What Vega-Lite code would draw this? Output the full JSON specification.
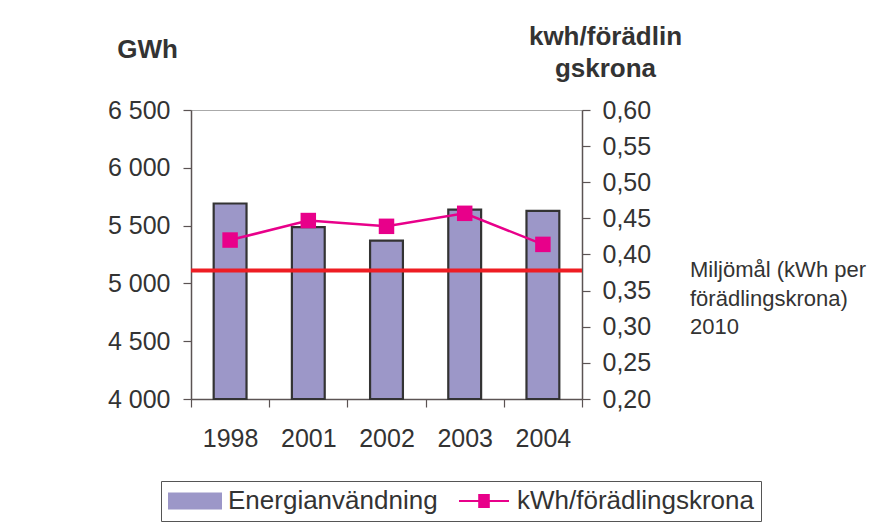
{
  "$schema": "https://vega.github.io/schema/vega-lite/v6.json",
  "width": 391,
  "height": 289,
  "autosize": {"type": "none"},
  "padding": {"left": 191, "top": 110, "right": 300, "bottom": 127},
  "background": "white",
  "config": {
    "font": "Liberation Sans",
    "view": {"stroke": "#aaaaaa", "strokeWidth": 1},
    "axis": {
      "grid": false,
      "domainColor": "#5b5353",
      "tickColor": "#5b5353",
      "domainWidth": 1.5,
      "tickWidth": 1.2,
      "tickSize": 8,
      "labelColor": "#333333",
      "titleColor": "#333333",
      "labelFont": "Liberation Sans",
      "titleFont": "Liberation Sans",
      "labelFontSize": 25,
      "labelFontWeight": "normal",
      "labelOverlap": false
    },
    "legend": {
      "orient": "none",
      "legendY": 371,
      "direction": "horizontal",
      "padding": 7,
      "labelFontSize": 26,
      "labelFont": "Liberation Sans",
      "labelLimit": 400,
      "symbolSize": 400,
      "symbolStrokeWidth": 0,
      "symbolOffset": 14,
      "labelOffset": 20,
      "columnPadding": 19
    }
  },
  "data": {
    "values": [
      {"year": "1998", "energy": 5691, "intensity": 0.420, "s1": "Energianvändning", "s2": "kWh/förädlingskrona"},
      {"year": "2001", "energy": 5486, "intensity": 0.447, "s1": "Energianvändning", "s2": "kWh/förädlingskrona"},
      {"year": "2002", "energy": 5370, "intensity": 0.439, "s1": "Energianvändning", "s2": "kWh/förädlingskrona"},
      {"year": "2003", "energy": 5639, "intensity": 0.457, "s1": "Energianvändning", "s2": "kWh/förädlingskrona"},
      {"year": "2004", "energy": 5627, "intensity": 0.414, "s1": "Energianvändning", "s2": "kWh/förädlingskrona"}
    ]
  },
  "layer": [
    {
      "layer": [
        {
          "mark": {"type": "bar", "width": {"band": 0.42}, "opacity": 1},
          "encoding": {
            "x": {
              "field": "year",
              "type": "nominal",
              "sort": null,
              "scale": {"paddingInner": 0, "paddingOuter": 0},
              "axis": {
                "title": null,
                "labelAngle": 0,
                "tickBand": "extent",
                "labelBaseline": "alphabetic",
                "labelPadding": 39
              }
            },
            "y": {
              "field": "energy",
              "type": "quantitative",
              "scale": {"domain": [4000, 6500], "zero": false, "nice": false},
              "axis": {
                "orient": "left",
                "values": [4000, 4500, 5000, 5500, 6000, 6500],
                "labelExpr": "replace(format(datum.value, ',.0f'), ',', ' ')",
                "labelPadding": 13,
                "title": "GWh",
                "titleFontSize": 26,
                "titleFontWeight": "bold",
                "titleAngle": 0,
                "titleAlign": "center",
                "titleBaseline": "alphabetic",
                "titleX": -44,
                "titleY": -53
              }
            },
            "y2": {"datum": 4000},
            "color": {
              "field": "s1",
              "type": "nominal",
              "scale": {"domain": ["Energianvändning", "kWh/förädlingskrona"], "range": ["#9c97c8", "transparent"]},
              "legend": {
                "title": null,
                "legendX": -30,
                "strokeColor": "#555555",
                "labelColor": "#333333",
                "symbolType": "M-2.7,-0.85H2.7V0.85H-2.7Z"
              }
            }
          }
        },
        {
          "mark": {"type": "bar", "width": {"band": 0.42}, "fill": "transparent", "stroke": "#333333", "strokeWidth": 2.2},
          "encoding": {
            "x": {"field": "year", "type": "nominal", "sort": null},
            "y": {
              "field": "energy",
              "type": "quantitative",
              "axis": {
                "orient": "left",
                "values": [4000, 4500, 5000, 5500, 6000, 6500],
                "labelExpr": "replace(format(datum.value, ',.0f'), ',', ' ')",
                "labelPadding": 13,
                "title": "GWh",
                "titleFontSize": 26,
                "titleFontWeight": "bold",
                "titleAngle": 0,
                "titleAlign": "center",
                "titleBaseline": "alphabetic",
                "titleX": -44,
                "titleY": -53
              }
            },
            "y2": {"datum": 4000}
          }
        }
      ]
    },
    {
      "layer": [
        {
          "mark": {"type": "line", "color": "#e8008a", "strokeWidth": 2.5},
          "encoding": {
            "x": {"field": "year", "type": "nominal", "sort": null},
            "y": {
              "field": "intensity",
              "type": "quantitative",
              "scale": {"domain": [0.2, 0.6], "zero": false, "nice": false},
              "axis": {
                "orient": "right",
                "values": [0.2, 0.25, 0.3, 0.35, 0.4, 0.45, 0.5, 0.55, 0.6],
                "labelExpr": "replace(format(datum.value, '.2f'), '.', ',')",
                "labelPadding": 12,
                "labelOverlap": false,
                "title": ["kwh/förädlin", "gskrona"],
                "titleFontSize": 26,
                "titleFontWeight": "bold",
                "titleAngle": 0,
                "titleAlign": "center",
                "titleBaseline": "alphabetic",
                "titleLineHeight": 32,
                "titleX": 23,
                "titleY": -66
              }
            }
          }
        },
        {
          "mark": {"type": "square", "size": 240, "filled": true, "opacity": 1},
          "encoding": {
            "x": {"field": "year", "type": "nominal", "sort": null},
            "y": {
              "field": "intensity",
              "type": "quantitative",
              "axis": {
                "orient": "right",
                "values": [0.2, 0.25, 0.3, 0.35, 0.4, 0.45, 0.5, 0.55, 0.6],
                "labelExpr": "replace(format(datum.value, '.2f'), '.', ',')",
                "labelPadding": 12,
                "labelOverlap": false,
                "title": ["kwh/förädlin", "gskrona"],
                "titleFontSize": 26,
                "titleFontWeight": "bold",
                "titleAngle": 0,
                "titleAlign": "center",
                "titleBaseline": "alphabetic",
                "titleLineHeight": 32,
                "titleX": 23,
                "titleY": -66
              }
            },
            "color": {
              "field": "s2",
              "type": "nominal",
              "scale": {"domain": ["kWh/förädlingskrona"], "range": ["#e8008a"]},
              "legend": {
                "title": null,
                "legendX": 259,
                "labelColor": "rgba(0,0,0,0)",
                "symbolType": "M-2.5,-0.11H2.5V0.11H-2.5ZM-0.58,-0.7H0.58V0.7H-0.58Z"
              }
            }
          }
        },
        {
          "data": {"values": [{"goal": 0.378}]},
          "mark": {"type": "rule", "color": "#ee1d23", "strokeWidth": 4},
          "encoding": {
            "y": {
              "field": "goal",
              "type": "quantitative",
              "axis": {
                "orient": "right",
                "values": [0.2, 0.25, 0.3, 0.35, 0.4, 0.45, 0.5, 0.55, 0.6],
                "labelExpr": "replace(format(datum.value, '.2f'), '.', ',')",
                "labelPadding": 12,
                "labelOverlap": false,
                "title": ["kwh/förädlin", "gskrona"],
                "titleFontSize": 26,
                "titleFontWeight": "bold",
                "titleAngle": 0,
                "titleAlign": "center",
                "titleBaseline": "alphabetic",
                "titleLineHeight": 32,
                "titleX": 23,
                "titleY": -66
              }
            }
          }
        },
        {
          "data": {"values": [{"goal": 0.378}]},
          "mark": {
            "type": "text",
            "text": ["Miljömål (kWh per", "förädlingskrona)", "2010"],
            "x": {"expr": "width"},
            "dx": 108,
            "dy": 7,
            "align": "left",
            "baseline": "alphabetic",
            "lineHeight": 28.5,
            "fontSize": 22,
            "font": "Liberation Sans",
            "color": "#333333"
          },
          "encoding": {
            "y": {
              "field": "goal",
              "type": "quantitative",
              "axis": {
                "orient": "right",
                "values": [0.2, 0.25, 0.3, 0.35, 0.4, 0.45, 0.5, 0.55, 0.6],
                "labelExpr": "replace(format(datum.value, '.2f'), '.', ',')",
                "labelPadding": 12,
                "labelOverlap": false,
                "title": ["kwh/förädlin", "gskrona"],
                "titleFontSize": 26,
                "titleFontWeight": "bold",
                "titleAngle": 0,
                "titleAlign": "center",
                "titleBaseline": "alphabetic",
                "titleLineHeight": 32,
                "titleX": 23,
                "titleY": -66
              }
            }
          }
        }
      ]
    }
  ],
  "resolve": {"scale": {"y": "independent", "color": "independent"}}
}
